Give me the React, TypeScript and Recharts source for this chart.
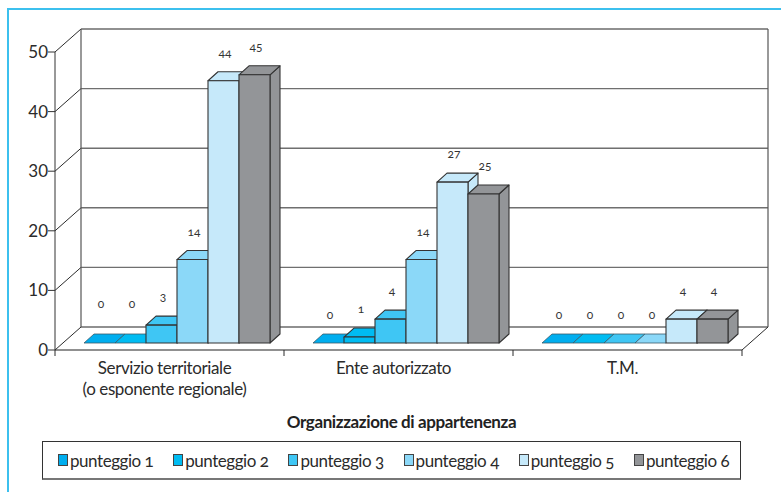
import React from 'react';
import { BarChart, Bar, XAxis, YAxis, Legend, LabelList, usePlotArea } from 'recharts';

const categories = ['Servizio territoriale|(o esponente regionale)', 'Ente autorizzato', 'T.M.'];
const punteggio1 = [0, 0, 0];
const punteggio2 = [0, 1, 0];
const punteggio3 = [3, 4, 0];
const punteggio4 = [14, 14, 0];
const punteggio5 = [44, 27, 4];
const punteggio6 = [45, 25, 4];
const seriesNames = ['punteggio 1', 'punteggio 2', 'punteggio 3', 'punteggio 4', 'punteggio 5', 'punteggio 6'];
const seriesColors = ['#00aeef', '#00bcf2', '#3fc6f4', '#8bd8f8', '#c6e9fa', '#939598'];
const yTicks = [0, 10, 20, 30, 40, 50];

const chartData = categories.map((name, i) => ({
  name,
  s1: punteggio1[i],
  s2: punteggio2[i],
  s3: punteggio3[i],
  s4: punteggio4[i],
  s5: punteggio5[i],
  s6: punteggio6[i],
}));

const FONT = 'Lato, "Open Sans", sans-serif';
const INK = '#2b2b2b';
const WALL_X = 26;
const WALL_Y = 23;
const BAR_DX = 6.5;
const BAR_DY = 7;
const DEPTH_X = 10;
const DEPTH_Y = 9;

// back wall, floor and the ticks recharts can't place on band edges
const Walls = () => {
  const plot = usePlotArea();
  if (!plot) return null;
  const { x, y, width, height } = plot;
  const bottom = y + height;
  const right = x + width;
  const band = width / categories.length;
  return (
    <g fill="none">
      {yTicks.slice(1, -1).map((t) => {
        const ty = bottom - (t / 50) * height - WALL_Y;
        return <line key={t} x1={x + WALL_X} x2={right + WALL_X} y1={ty} y2={ty} stroke="#6f6f6f" strokeWidth={1.4} />;
      })}
      {yTicks.map((t) => {
        const ty = bottom - (t / 50) * height;
        return <line key={t} x1={x} y1={ty} x2={x + WALL_X} y2={ty - WALL_Y} stroke={INK} strokeWidth={1} />;
      })}
      <line x1={x + WALL_X} x2={right + WALL_X} y1={y - WALL_Y} y2={y - WALL_Y} stroke="#222" strokeWidth={1.2} />
      <line x1={x + WALL_X} x2={right + WALL_X} y1={bottom - WALL_Y} y2={bottom - WALL_Y} stroke="#222" strokeWidth={1.2} />
      <line x1={x + WALL_X} x2={x + WALL_X} y1={y - WALL_Y} y2={bottom - WALL_Y} stroke="#555" strokeWidth={1.2} />
      <line x1={right + WALL_X} x2={right + WALL_X} y1={y - WALL_Y} y2={bottom - WALL_Y} stroke="#555" strokeWidth={1.2} />
      <line x1={right} y1={bottom} x2={right + WALL_X} y2={bottom - WALL_Y} stroke={INK} strokeWidth={1} />
      {[0, 1, 2, 3].map((i) => (
        <line key={i} x1={x + band * i} x2={x + band * i} y1={bottom} y2={bottom + 6} stroke={INK} strokeWidth={1} />
      ))}
    </g>
  );
};

const Bar3D = (props: any) => {
  const { x, y, width, height, fill } = props;
  const l = x + BAR_DX;
  const r = l + width;
  const top = y - BAR_DY;
  const bot = top + height;
  const topFace = `${l},${top} ${l + DEPTH_X},${top - DEPTH_Y} ${r + DEPTH_X},${top - DEPTH_Y} ${r},${top}`;
  const sideFace = `${r},${top} ${r + DEPTH_X},${top - DEPTH_Y} ${r + DEPTH_X},${bot - DEPTH_Y} ${r},${bot}`;
  if (!height) {
    return <polygon points={topFace} fill={fill} stroke="#3a5a6a" strokeWidth={0.8} />;
  }
  return (
    <g stroke="#333" strokeWidth={1.1} strokeLinejoin="round">
      <polygon points={sideFace} fill={fill} />
      <polygon points={topFace} fill={fill} />
      <rect x={l} y={top} width={width} height={height} fill={fill} />
    </g>
  );
};

const ValueLabel = (props: any) => {
  const { x, y, width, value, index } = props;
  // the first group's zeros sit higher up in the original
  const lift = index === 0 && value === 0 ? 11 : 0;
  return (
    <text
      x={x + width / 2 + BAR_DX + 1.5}
      y={y - BAR_DY - 28 - lift + 4}
      textAnchor="middle"
      fontSize={12}
      fontFamily={FONT}
      fill="#333"
      style={{ fontFeatureSettings: '"onum"' }}
    >
      {value}
    </text>
  );
};

const CategoryTick = (props: any) => {
  const { x, y, payload } = props;
  const lines = String(payload.value).split('|');
  return (
    <text x={x - 5} y={y} textAnchor="middle" fontSize={17} letterSpacing={-0.4} fontFamily={FONT} fill={INK}>
      {lines.map((line, i) => (
        <tspan key={line} x={x - 5} dy={i === 0 ? 16 : 21}>
          {line}
        </tspan>
      ))}
    </text>
  );
};

const LegendBox = ({ payload }: any) => (
  <div
    style={{
      boxSizing: 'border-box',
      width: 699,
      height: 39,
      border: '1px solid #333',
      borderBottom: '2px solid #777',
      background: '#fff',
      display: 'flex',
      alignItems: 'center',
      paddingLeft: 15,
      fontFamily: FONT,
      fontSize: 17,
      letterSpacing: -0.45,
      color: INK,
    }}
  >
    {(payload || []).map((entry: any) => (
      <div key={entry.value} style={{ width: 115.2, flex: 'none', display: 'flex', alignItems: 'center' }}>
        <span
          style={{
            display: 'inline-block',
            boxSizing: 'border-box',
            width: 10,
            height: 12,
            marginRight: 2,
            background: entry.color,
            border: '1px solid #444',
          }}
        />
        <span style={{ fontFeatureSettings: '"onum"' }}>{entry.value}</span>
      </div>
    ))}
  </div>
);

const seriesKeys = ['s1', 's2', 's3', 's4', 's5', 's6'];

export default function App() {
  return (
    <div style={{ position: 'absolute', left: 0, top: 0, width: 781, height: 492, background: '#fff', overflow: 'hidden' }}>
      <BarChart
        width={781}
        height={492}
        data={chartData}
        margin={{ top: 52, right: 39, left: 0, bottom: 20 }}
        barGap={0}
        barCategoryGap={22.5}
        style={{ position: 'absolute', left: 0, top: 0 }}
      >
        <Walls />
        <XAxis
          dataKey="name"
          height={83}
          interval={0}
          tickLine={false}
          axisLine={{ stroke: '#222', strokeWidth: 1.2 }}
          tick={<CategoryTick />}
          label={{
            value: 'Organizzazione di appartenenza',
            position: 'insideBottom',
            offset: 5,
            dx: 3,
            fontSize: 17,
            fontWeight: 700,
            letterSpacing: -0.4,
            fontFamily: FONT,
            fill: '#222',
          }}
        />
        <YAxis
          width={55}
          domain={[0, 50]}
          ticks={yTicks}
          tickSize={7}
          tickMargin={0}
          interval={0}
          axisLine={{ stroke: '#333', strokeWidth: 1 }}
          tickLine={{ stroke: '#333' }}
          tick={{ fontSize: 17, fontFamily: FONT, fill: INK }}
        />
        <Legend verticalAlign="bottom" content={<LegendBox />} wrapperStyle={{ left: 42, top: 441, width: 699, height: 39 }} />
        {seriesKeys.map((key, i) => (
          <Bar
            key={key}
            dataKey={key}
            name={seriesNames[i]}
            fill={seriesColors[i]}
            isAnimationActive={false}
            shape={<Bar3D />}
          >
            <LabelList dataKey={key} content={<ValueLabel />} />
          </Bar>
        ))}
      </BarChart>
      <div
        style={{
          position: 'absolute',
          left: 7,
          top: 8,
          right: 0,
          bottom: 0,
          borderTop: '2px solid #3cc0ee',
          borderLeft: '2px solid #3cc0ee',
          pointerEvents: 'none',
        }}
      />
    </div>
  );
}
